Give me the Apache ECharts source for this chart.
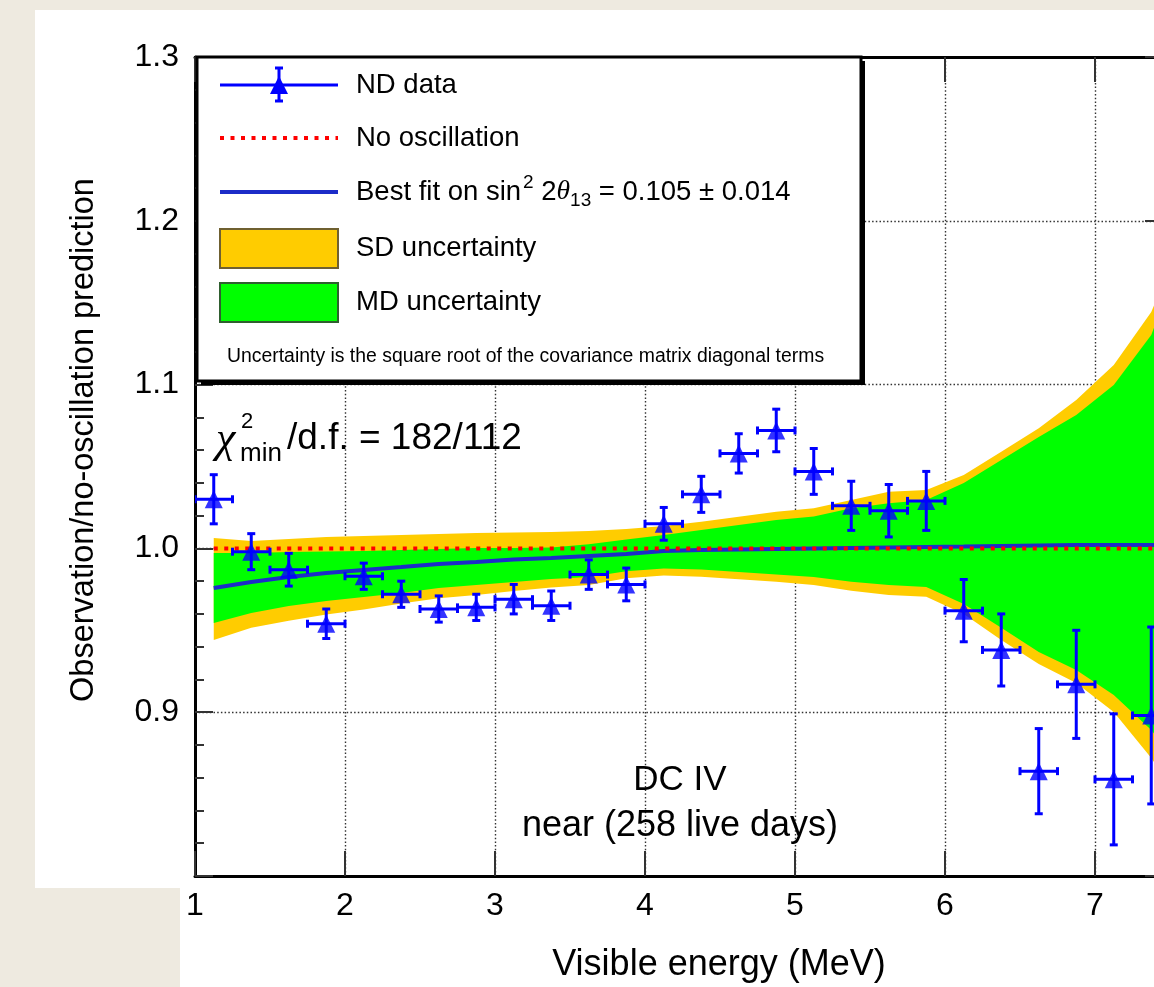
<!DOCTYPE html>
<html>
<head>
<meta charset="utf-8">
<title>DC IV near detector ratio</title>
<style>
  html, body { margin: 0; padding: 0; background: #eeeae0; }
  #chart { width: 1154px; height: 987px; }
</style>
<script src="https://cdn.jsdelivr.net/npm/echarts@6/dist/echarts.min.js"></script>
</head>
<body>
<div id="chart"></div>
<script>
// ---- data -------------------------------------------------------------
// visible-energy bin centres (MeV), 0.25 MeV wide bins
const binCenters = [1.125, 1.375, 1.625, 1.875, 2.125, 2.375, 2.625, 2.875, 3.125,
  3.375, 3.625, 3.875, 4.125, 4.375, 4.625, 4.875, 5.125, 5.375, 5.625, 5.875,
  6.125, 6.375, 6.625, 6.875, 7.125, 7.375];
const binHalfWidth = 0.125;

// ND data: observation / no-oscillation prediction and its error
const ndRatio = [1.030, 0.998, 0.987, 0.954, 0.983, 0.972, 0.963, 0.964, 0.969,
  0.965, 0.984, 0.978, 1.015, 1.033, 1.058, 1.072, 1.047, 1.026, 1.023, 1.029,
  0.962, 0.938, 0.864, 0.917, 0.859, 0.898];
const ndError = [0.015, 0.011, 0.010, 0.009, 0.008, 0.008, 0.008, 0.008, 0.009,
  0.009, 0.009, 0.010, 0.010, 0.011, 0.012, 0.013, 0.014, 0.015, 0.016, 0.018,
  0.019, 0.022, 0.026, 0.033, 0.040, 0.054];

// prediction curves, sampled at the bin centres plus the next bin edge
const bandEnergy = [1.125, 1.375, 1.625, 1.875, 2.125, 2.375, 2.625, 2.875, 3.125,
  3.375, 3.625, 3.875, 4.125, 4.375, 4.625, 4.875, 5.125, 5.375, 5.625, 5.875,
  6.125, 6.375, 6.625, 6.875, 7.125, 7.375, 7.5];
const bestFit = [0.9758, 0.9795, 0.9825, 0.9850, 0.9868, 0.9886, 0.9905, 0.9917, 0.9932,
  0.9941, 0.9954, 0.9966, 0.9984, 0.9990, 0.9993, 0.9996, 0.9999, 1.0002, 1.0005, 1.0008,
  1.0011, 1.0015, 1.0018, 1.0021, 1.0021, 1.0021, 1.0021];
const sdHigh = [1.0063, 1.0045, 1.0057, 1.0070, 1.0076, 1.0082, 1.0088, 1.0094, 1.0097,
  1.0100, 1.0106, 1.0118, 1.0137, 1.0163, 1.0193, 1.0224, 1.0245, 1.0295, 1.0346, 1.0356,
  1.0448, 1.0590, 1.0733, 1.0906, 1.1120, 1.1443, 1.1720];
const sdLow = [0.9441, 0.9515, 0.9559, 0.9597, 0.9627, 0.9664, 0.9695, 0.9716, 0.9740,
  0.9761, 0.9777, 0.9818, 0.9835, 0.9827, 0.9811, 0.9797, 0.9777, 0.9742, 0.9716, 0.9705,
  0.9600, 0.9441, 0.9294, 0.9178, 0.9001, 0.8720, 0.8560];
const mdHigh = [0.9972, 0.9972, 0.9978, 0.9981, 0.9984, 0.9990, 0.9996, 1.0002, 1.0002,
  1.0005, 1.0025, 1.0055, 1.0082, 1.0112, 1.0143, 1.0173, 1.0194, 1.0245, 1.0275, 1.0295,
  1.0399, 1.0540, 1.0680, 1.0814, 1.0998, 1.1303, 1.1600];
const mdLow = [0.9545, 0.9606, 0.9648, 0.9679, 0.9703, 0.9728, 0.9758, 0.9777, 0.9795,
  0.9813, 0.9825, 0.9860, 0.9878, 0.9871, 0.9856, 0.9841, 0.9825, 0.9797, 0.9777, 0.9764,
  0.9661, 0.9515, 0.9368, 0.9258, 0.9105, 0.8891, 0.8750];
const noOscillation = 1.0;

// axis tick labels
const xTickLabels = ['1', '2', '3', '4', '5', '6', '7'];
const yTickLabels = ['0.9', '1.0', '1.1', '1.2', '1.3'];

// ---- styling ----------------------------------------------------------
const SANS = '"Liberation Sans", Arial, Helvetica, sans-serif';
const SERIF = '"Liberation Serif", "Times New Roman", serif';
const C_DATA = '#0000ff';
const C_FIT = '#1c2cc8';
const C_NOOSC = '#ff0000';
const C_SD = '#ffcc00';
const C_MD = '#00ff00';

// 150 px per MeV; the frame continues just past the right edge of the page
const X_MIN = 1, X_MAX = 7.45333;
const GRID = { left: 195, top: 57, width: 968, height: 819 };

const measureCtx = document.createElement('canvas').getContext('2d');
function textWidth(str, font) {
  measureCtx.font = font;
  return measureCtx.measureText(str).width;
}
// lay out a run of text pieces (super/subscripts, italics) left to right
function textRun(x, y, parts) {
  const out = [];
  let cx = x;
  parts.forEach(p => {
    const font = (p.italic ? 'italic ' : '') + p.size + 'px ' + (p.family || SANS);
    out.push({
      type: 'text', z: 120, silent: true,
      style: { text: p.text, x: cx + (p.dx || 0), y: y + (p.dy || 0), font: font,
               fill: '#000', align: 'left', verticalAlign: 'middle' }
    });
    cx += textWidth(p.text, font) + (p.dx || 0);
  });
  return out;
}

function bandSeries(name, low, high, color, z) {
  return {
    type: 'custom', name: name, coordinateSystem: 'cartesian2d', clip: true, silent: true, z: z,
    data: bandEnergy.map((e, i) => [e, low[i], high[i]]),
    renderItem: function (params, api) {
      if (params.dataIndexInside !== 0) return null;
      const n = params.dataInsideLength;
      const pts = [];
      for (let j = 0; j < n; j++) pts.push(api.coord([api.value(0, j), api.value(2, j)]));
      for (let j = n - 1; j >= 0; j--) pts.push(api.coord([api.value(0, j), api.value(1, j)]));
      return { type: 'polygon', shape: { points: pts }, style: { fill: color, stroke: null } };
    }
  };
}

// ---- legend box -------------------------------------------------------
const LG = { x: 197, y: 57, w: 664, h: 324 };
const legendSymX0 = 220, legendSymX1 = 338, legendTextX = 356;
const legendFont = 27.5;
const rowY = [85, 138, 192, 248, 302, 357];
const symMid = (legendSymX0 + legendSymX1) / 2;

const graphics = [
  // page panels
  { type: 'rect', z: -100, silent: true, shape: { x: 35, y: 10, width: 1119, height: 878 }, style: { fill: '#ffffff' } },
  { type: 'rect', z: -100, silent: true, shape: { x: 180, y: 880, width: 974, height: 107 }, style: { fill: '#ffffff' } },

  // legend frame with shadow
  { type: 'rect', z: 100, silent: true, shape: { x: LG.x + 4, y: LG.y + 4, width: LG.w, height: LG.h }, style: { fill: '#000' } },
  { type: 'rect', z: 101, silent: true, shape: { x: LG.x, y: LG.y, width: LG.w, height: LG.h }, style: { fill: '#fff', stroke: '#000', lineWidth: 3 } },

  // ND data symbol
  { type: 'line', z: 110, silent: true, shape: { x1: legendSymX0, y1: rowY[0], x2: legendSymX1, y2: rowY[0] }, style: { stroke: C_DATA, lineWidth: 3 } },
  { type: 'line', z: 110, silent: true, shape: { x1: symMid, y1: rowY[0] - 17, x2: symMid, y2: rowY[0] + 16 }, style: { stroke: C_DATA, lineWidth: 3 } },
  { type: 'line', z: 110, silent: true, shape: { x1: symMid - 4, y1: rowY[0] - 17, x2: symMid + 4, y2: rowY[0] - 17 }, style: { stroke: C_DATA, lineWidth: 3 } },
  { type: 'line', z: 110, silent: true, shape: { x1: symMid - 4, y1: rowY[0] + 16, x2: symMid + 4, y2: rowY[0] + 16 }, style: { stroke: C_DATA, lineWidth: 3 } },
  { type: 'polygon', z: 111, silent: true, shape: { points: [[symMid, rowY[0] - 9], [symMid + 9, rowY[0] + 9], [symMid - 9, rowY[0] + 9]] }, style: { fill: C_DATA } },
  // no oscillation symbol
  { type: 'line', z: 110, silent: true, shape: { x1: legendSymX0, y1: rowY[1], x2: legendSymX1, y2: rowY[1] }, style: { stroke: C_NOOSC, lineWidth: 4, lineDash: [4, 6.5] } },
  // best fit symbol
  { type: 'line', z: 110, silent: true, shape: { x1: legendSymX0, y1: rowY[2], x2: legendSymX1, y2: rowY[2] }, style: { stroke: C_FIT, lineWidth: 4 } },
  // SD / MD boxes
  { type: 'rect', z: 110, silent: true, shape: { x: legendSymX0, y: rowY[3] - 19, width: legendSymX1 - legendSymX0, height: 39 }, style: { fill: C_SD, stroke: '#6f6030', lineWidth: 2 } },
  { type: 'rect', z: 110, silent: true, shape: { x: legendSymX0, y: rowY[4] - 19, width: legendSymX1 - legendSymX0, height: 39 }, style: { fill: C_MD, stroke: '#2f5f2f', lineWidth: 2 } }
];

graphics.push(...textRun(legendTextX, rowY[0], [{ text: 'ND data', size: legendFont }]));
graphics.push(...textRun(legendTextX, rowY[1], [{ text: 'No oscillation', size: legendFont }]));
graphics.push(...textRun(legendTextX, rowY[2], [
  { text: 'Best fit on sin', size: legendFont },
  { text: '2', size: 19, dy: -9, dx: 2 },
  { text: ' 2', size: legendFont },
  { text: 'θ', size: legendFont, italic: true, family: SERIF },
  { text: '13', size: 19, dy: 9 },
  { text: ' = 0.105 ± 0.014', size: legendFont }
]));
graphics.push(...textRun(legendTextX, rowY[3], [{ text: 'SD uncertainty', size: legendFont }]));
graphics.push(...textRun(legendTextX, rowY[4], [{ text: 'MD uncertainty', size: legendFont }]));
graphics.push(...textRun(227, rowY[5], [{ text: 'Uncertainty is the square root of the covariance matrix diagonal terms', size: 19.4 }]));

// chi-square annotation
graphics.push(...textRun(216, 440, [{ text: 'χ', size: 44, italic: true, family: SERIF }]));
graphics.push(...textRun(241, 422, [{ text: '2', size: 22 }]));
graphics.push(...textRun(240, 454, [{ text: 'min', size: 26 }]));
graphics.push(...textRun(287, 439, [{ text: '/d.f. = 182/112', size: 37 }]));

// data-set label
graphics.push({ type: 'text', z: 120, silent: true, style: { text: 'DC IV', x: 680, y: 780, font: '35px ' + SANS, fill: '#000', align: 'center', verticalAlign: 'middle' } });
graphics.push({ type: 'text', z: 120, silent: true, style: { text: 'near (258 live days)', x: 680, y: 826, font: '36px ' + SANS, fill: '#000', align: 'center', verticalAlign: 'middle' } });

// axis titles
graphics.push({ type: 'text', z: 120, silent: true, style: { text: 'Visible energy (MeV)', x: 719, y: 965, font: '36px ' + SANS, fill: '#000', align: 'center', verticalAlign: 'middle' } });
graphics.push({ type: 'text', z: 120, silent: true, x: 84, y: 440, rotation: Math.PI / 2, style: { text: 'Observation/no-oscillation prediction', x: 0, y: 0, font: '32.5px ' + SANS, fill: '#000', align: 'center', verticalAlign: 'middle' } });

// ---- chart ------------------------------------------------------------
const gridLine = { show: true, lineStyle: { color: '#333', width: 1.4, type: [1.5, 2.2] } };
const tickStyle = { color: '#333', width: 2 };
const axisLineStyle = { show: true, onZero: false, lineStyle: { color: '#000', width: 3 } };

function xLabel(v) {
  const r = Math.round(v);
  return Math.abs(v - r) < 1e-6 && xTickLabels.includes(String(r)) ? String(r) : '';
}
function yLabel(v) {
  const s = v.toFixed(1);
  return yTickLabels.includes(s) ? s : '';
}

const chart = echarts.init(document.getElementById('chart'), null, { renderer: 'canvas' });
chart.setOption({
  animation: false,
  backgroundColor: 'transparent',
  grid: Object.assign({ containLabel: false, outerBoundsMode: 'none' }, GRID),
  xAxis: [
    { type: 'value', position: 'bottom', min: X_MIN, max: X_MAX, interval: 1,
      axisLine: axisLineStyle,
      axisTick: { show: true, inside: true, length: 25, lineStyle: tickStyle },
      axisLabel: { show: true, margin: 14, color: '#000', fontSize: 32, fontFamily: SANS, formatter: xLabel },
      splitLine: gridLine },
    { type: 'value', position: 'top', min: X_MIN, max: X_MAX, interval: 1,
      axisLine: axisLineStyle,
      axisTick: { show: true, inside: true, length: 25, lineStyle: tickStyle },
      axisLabel: { show: false }, splitLine: { show: false } }
  ],
  yAxis: [
    { type: 'value', position: 'left', min: 0.8, max: 1.3, interval: 0.1,
      axisLine: axisLineStyle,
      axisTick: { show: true, inside: true, length: 18, lineStyle: tickStyle },
      minorTick: { show: true, splitNumber: 5, length: 9, lineStyle: tickStyle },
      axisLabel: { show: true, margin: 16, color: '#000', fontSize: 32, fontFamily: SANS, formatter: yLabel },
      splitLine: gridLine },
    { type: 'value', position: 'right', min: 0.8, max: 1.3, interval: 0.1,
      axisLine: axisLineStyle,
      axisTick: { show: true, inside: true, length: 18, lineStyle: tickStyle },
      minorTick: { show: true, splitNumber: 5, length: 9, lineStyle: tickStyle },
      axisLabel: { show: false }, splitLine: { show: false } }
  ],
  series: [
    bandSeries('SD uncertainty', sdLow, sdHigh, C_SD, 1),
    bandSeries('MD uncertainty', mdLow, mdHigh, C_MD, 2),
    { type: 'line', name: 'Best fit', z: 3, silent: true, clip: true, showSymbol: false, symbol: 'none',
      data: bandEnergy.map((e, i) => [e, bestFit[i]]),
      lineStyle: { color: C_FIT, width: 4 } },
    { type: 'line', name: 'No oscillation', z: 4, silent: true, clip: true, showSymbol: false, symbol: 'none',
      data: [[bandEnergy[0], noOscillation], [bandEnergy[bandEnergy.length - 1], noOscillation]],
      lineStyle: { color: C_NOOSC, width: 4, type: [4, 6.5], cap: 'butt' } },
    { type: 'custom', name: 'ND data errors', z: 5, silent: true, clip: true,
      data: binCenters.map((e, i) => [e, ndRatio[i], ndError[i]]),
      renderItem: function (params, api) {
        const x = api.value(0), y = api.value(1), err = api.value(2);
        const c = api.coord([x, y]);
        const top = api.coord([x, y + err]);
        const bot = api.coord([x, y - err]);
        const l = api.coord([x - binHalfWidth, y]);
        const r = api.coord([x + binHalfWidth, y]);
        const cap = 4;
        const st = { stroke: C_DATA, lineWidth: 3 };
        const seg = (x1, y1, x2, y2) => ({ type: 'line', shape: { x1, y1, x2, y2 }, style: st });
        return { type: 'group', children: [
          seg(c[0], top[1], c[0], bot[1]),
          seg(c[0] - cap, top[1], c[0] + cap, top[1]),
          seg(c[0] - cap, bot[1], c[0] + cap, bot[1]),
          seg(l[0], c[1], r[0], c[1]),
          seg(l[0], c[1] - cap, l[0], c[1] + cap),
          seg(r[0], c[1] - cap, r[0], c[1] + cap)
        ] };
      } },
    { type: 'scatter', name: 'ND data', z: 6, silent: true, symbol: 'triangle', symbolSize: 18,
      data: binCenters.map((e, i) => [e, ndRatio[i]]),
      itemStyle: { color: C_DATA } }
  ],
  graphic: graphics
});
</script>
</body>
</html>
